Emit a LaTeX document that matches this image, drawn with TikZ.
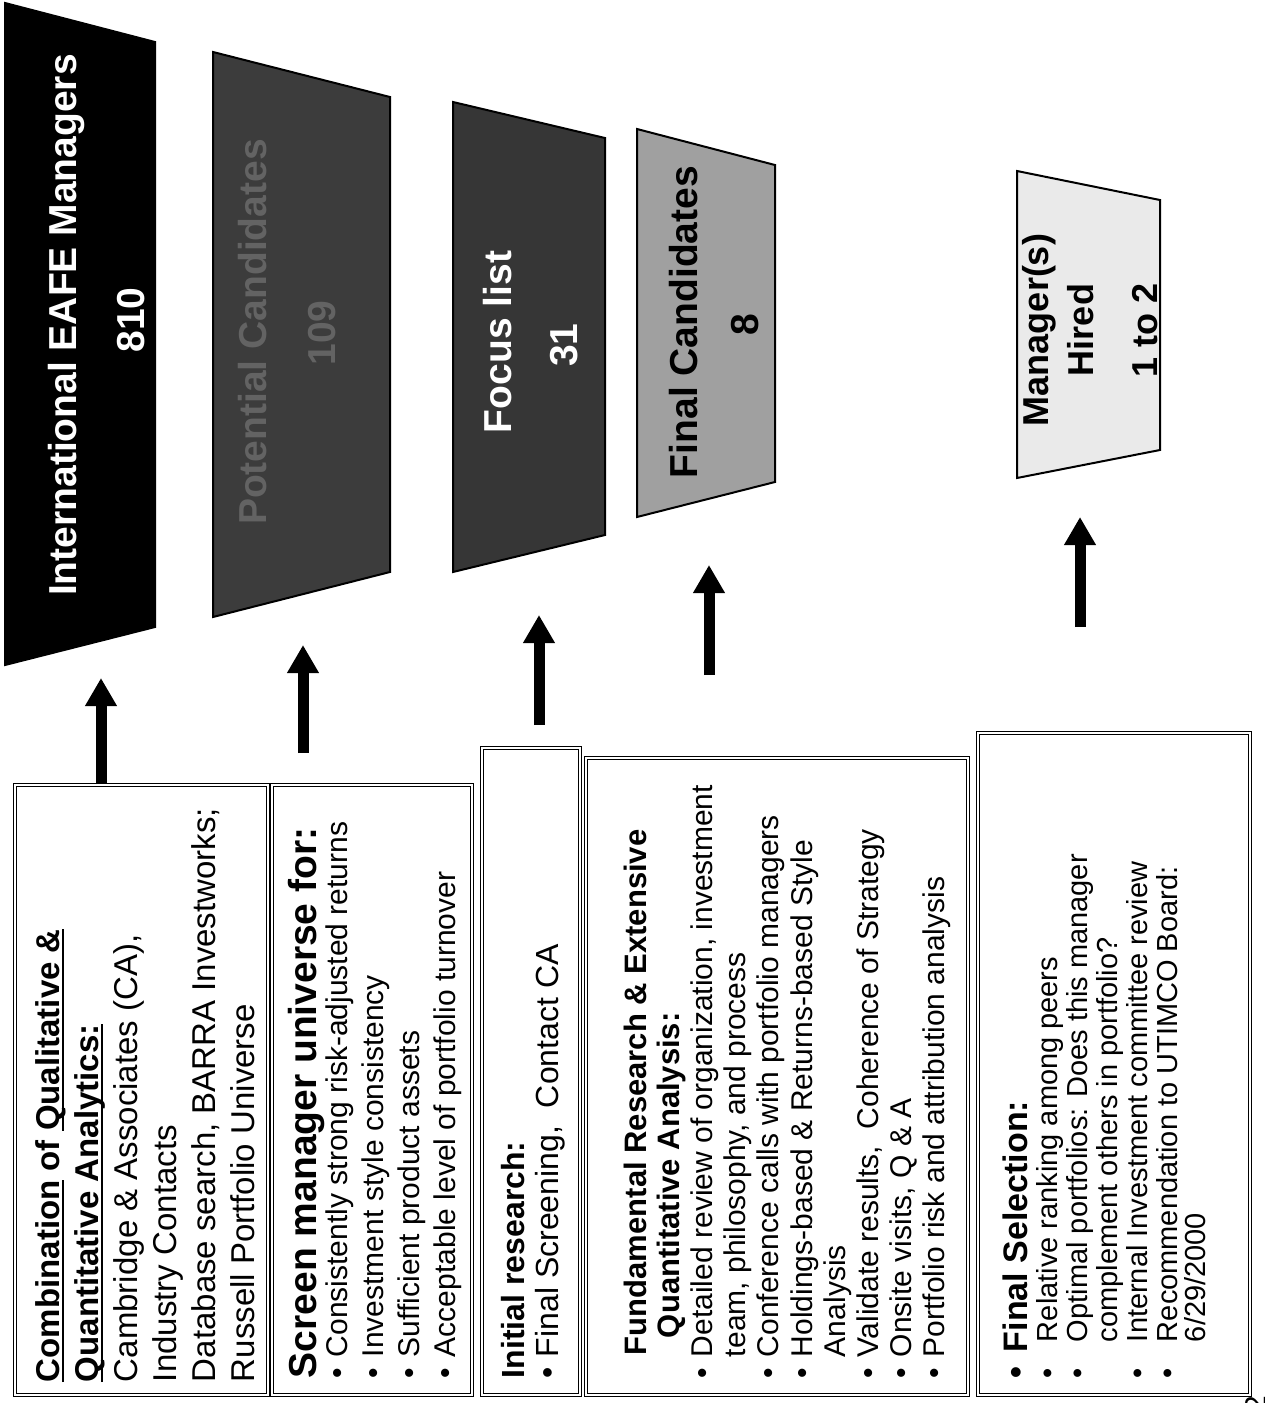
\documentclass[tikz,border=0pt]{standalone}
\usepackage{fontspec}
\setmainfont{Liberation Sans}
\usetikzlibrary{arrows.meta}
\newcommand{\ulw}[1]{\sbox0{#1}\rlap{\rule[-2.4pt]{\wd0}{0.9pt}}\usebox0}
\newcommand{\bul}[1][10.5pt]{\makebox[#1][l]{\textbullet}}
\definecolor{tgrayA}{HTML}{3C3C3C}
\definecolor{tgrayAt}{HTML}{636363}
\definecolor{tgrayB}{HTML}{363636}
\definecolor{tgrayC}{HTML}{A0A0A0}
\definecolor{tgrayD}{HTML}{EAEAEA}
\tikzset{
  ln/.style={rotate=90, anchor=base west, inner sep=0pt, outer sep=0pt, text=black},
  fA/.style={font=\fontsize{16.5}{19}\selectfont},
  fAh/.style={font=\bfseries\fontsize{16.5}{19}\selectfont},
  fB/.style={font=\fontsize{15}{18}\selectfont},
  fBh/.style={font=\bfseries\fontsize{19.5}{22}\selectfont},
  fC/.style={font=\fontsize{16}{19}\selectfont},
  fCh/.style={font=\bfseries\fontsize{16}{19}\selectfont},
  fD/.style={font=\fontsize{15}{18}\selectfont},
  fDh/.style={font=\bfseries\fontsize{15.5}{18}\selectfont},
  fE/.style={font=\fontsize{14.5}{17}\selectfont},
  fEh/.style={font=\bfseries\fontsize{17}{20}\selectfont},
  ttl/.style={rotate=90, anchor=base, inner sep=0pt, outer sep=0pt, font=\bfseries\fontsize{19.5}{22}\selectfont},
  trap/.style={draw=black, line width=1pt, line join=miter},
  tbox/.style={rectangle, draw=black, double=white, double distance=0.6pt, line width=0.85pt, inner sep=0pt},
  arr/.style={line width=5.5pt, -{Triangle[width=15pt,length=14pt]}},
}
\begin{document}
\begin{tikzpicture}[x=0.5pt,y=-0.5pt]
\useasboundingbox (0,0) rectangle (1264,1403);

% ---------- funnel stages ----------
\draw[trap, fill=black] (5,3) -- (155,42) -- (155,627) -- (5,665) -- cycle;
\node[ttl, text=white] (t1a) at (76,325) {International EAFE Managers};
\node[ttl, text=white] (t1b) at (144,320) {810};

\draw[trap, fill=tgrayA] (213,52) -- (390,97) -- (390,572) -- (213,617) -- cycle;
\node[ttl, text=tgrayAt] (t2a) at (266,332) {Potential Candidates};
\node[ttl, text=tgrayAt] (t2b) at (335,333) {109};

\draw[trap, fill=tgrayB] (453,102) -- (605,138) -- (605,535) -- (453,572) -- cycle;
\node[ttl, text=white] (t3a) at (511,342) {Focus list};
\node[ttl, text=white] (t3b) at (577,345) {31};

\draw[trap, fill=tgrayC] (637,129) -- (775,165) -- (775,482) -- (637,517) -- cycle;
\node[ttl, text=black] (t4a) at (697,322) {Final Candidates};
\node[ttl, text=black] (t4b) at (758,325) {8};

\draw[trap, fill=tgrayD] (1017,171) -- (1160,200) -- (1160,450) -- (1017,478) -- cycle;
\node[ttl, text=black, font=\bfseries\fontsize{18}{21}\selectfont] (t5a) at (1048,330) {Manager(s)};
\node[ttl, text=black, font=\bfseries\fontsize{18}{21}\selectfont] (t5b) at (1093,330) {Hired};
\node[ttl, text=black, font=\bfseries\fontsize{18}{21}\selectfont] (t5c) at (1157,330) {1 to 2};

% ---------- text boxes ----------
\node[tbox, minimum width=126.5pt, minimum height=305pt] (b1) at (141.5,1090) {};
\node[tbox, minimum width=100pt, minimum height=305pt] (b2) at (372,1090) {};
\node[tbox, minimum width=49pt, minimum height=323.5pt] (b3) at (531,1071.5) {};
\node[tbox, minimum width=191pt, minimum height=318.5pt] (b4) at (777,1076.5) {};
\node[tbox, minimum width=136pt, minimum height=331pt] (b5) at (1114,1064) {};

% box 1
\node[ln, fAh] (b1l1) at (59,1382) {\ulw{Combination} of \ulw{Qualitative \&}};
\node[ln, fAh] (b1l2) at (98,1382) {\ulw{Quantitative Analytics:}};
\node[ln, fA] (b1l3) at (137,1382) {Cambridge \& Associates (CA),};
\node[ln, fA] (b1l4) at (176,1382) {Industry Contacts};
\node[ln, fA] (b1l5) at (215,1382) {Database search, BARRA Investworks;};
\node[ln, fA] (b1l6) at (254,1382) {Russell Portfolio Universe};

% box 2
\node[ln, fBh] (b2l1) at (316,1378) {Screen manager universe for:};
\node[ln, fB] (b2l2) at (347,1378) {\bul Consistently strong risk-adjusted returns};
\node[ln, fB] (b2l3) at (383,1378) {\bul Investment style consistency};
\node[ln, fB] (b2l4) at (419,1378) {\bul Sufficient product assets};
\node[ln, fB] (b2l5) at (455,1378) {\bul Acceptable level of portfolio turnover};

% box 3
\node[ln, fCh] (b3l1) at (524,1378) {Initial research:};
\node[ln, fC] (b3l2) at (558,1378) {\bul Final Screening,\ \ Contact CA};

% box 4
\node[ln, fDh] (b4l1) at (646,1355) {Fundamental Research \& Extensive};
\node[ln, fDh] (b4l2) at (679,1338) {Quantitative Analysis:};
\node[ln, fD] (b4l3) at (712,1378) {\bul Detailed review of organization, investment};
\node[ln, fD] (b4l4) at (745,1357) {team, philosophy, and process};
\node[ln, fD] (b4l5) at (778,1378) {\bul Conference calls with portfolio managers};
\node[ln, fD] (b4l6) at (812,1378) {\bul Holdings-based \& Returns-based Style};
\node[ln, fD] (b4l7) at (845,1357) {Analysis};
\node[ln, fD] (b4l8) at (878,1378) {\bul Validate results,\ \ Coherence of Strategy};
\node[ln, fD] (b4l9) at (911,1378) {\bul Onsite visits, Q \& A};
\node[ln, fD] (b4l10) at (944,1378) {\bul Portfolio risk and attribution analysis};

% box 5
\node[ln, fEh] (b5l1) at (1027,1378) {\bul[13pt]Final Selection:};
\node[ln, fE] (b5l2) at (1057,1378) {\bul[18pt]Relative ranking among peers};
\node[ln, fE] (b5l3) at (1087,1378) {\bul[18pt]Optimal portfolios: Does this manager};
\node[ln, fE] (b5l4) at (1117,1342) {complement others in portfolio?};
\node[ln, fE] (b5l5) at (1147,1378) {\bul[18pt]Internal Investment committee review};
\node[ln, fE] (b5l6) at (1177,1378) {\bul[18pt]Recommendation to UTIMCO Board:};
\node[ln, fE] (b5l7) at (1205,1342) {6/29/2000};

% page number (cut at the edge)
\node[ln, fB] (pg) at (1266,1412) {2};

% ---------- arrows ----------
\coordinate (a1e) at (101,678);
\coordinate (a2s) at (303,753);  \coordinate (a2e) at (303,645);
\coordinate (a3s) at (539,725);  \coordinate (a3e) at (539,615);
\coordinate (a4s) at (709,675);  \coordinate (a4e) at (709,565);
\coordinate (a5s) at (1080,627); \coordinate (a5e) at (1080,517);
\draw[arr] (a1e |- b1.north) -- (a1e);
\draw[arr] (a2s) -- (a2e);
\draw[arr] (a3s) -- (a3e);
\draw[arr] (a4s) -- (a4e);
\draw[arr] (a5s) -- (a5e);
\end{tikzpicture}
\end{document}
